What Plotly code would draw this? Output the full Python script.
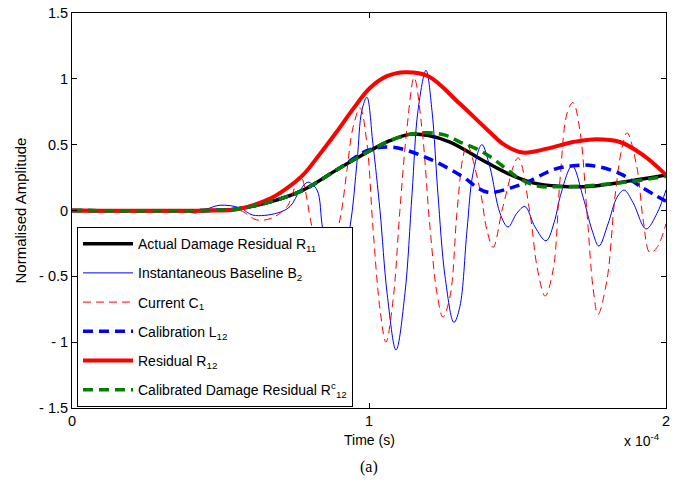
import plotly.graph_objects as go

# time in units of 1e-4 s
t_r11 = [0, 0.45, 0.55, 0.667, 0.778, 0.892, 1.0, 1.07, 1.14, 1.2, 1.273, 1.384, 1.468, 1.552, 1.643, 1.75, 1.88, 2.0]
v_r11 = [0, 0, 0.01, 0.065, 0.155, 0.31, 0.45, 0.53, 0.58, 0.57, 0.52, 0.38, 0.28, 0.21, 0.185, 0.185, 0.225, 0.27]

t_b2 = [0, 0.40, 0.45, 0.498, 0.566, 0.609, 0.69, 0.734, 0.768, 0.795, 0.825, 0.845, 0.893, 0.936, 0.960, 0.976,
        0.993, 1.013, 1.037, 1.061, 1.091, 1.121, 1.145, 1.165, 1.192, 1.212, 1.232, 1.256, 1.286, 1.306, 1.330,
        1.350, 1.380, 1.407, 1.441, 1.468, 1.498, 1.525, 1.559, 1.596, 1.626, 1.643, 1.684, 1.721, 1.751, 1.774,
        1.805, 1.835, 1.859, 1.889, 1.933, 1.970, 2.0]
v_b2 = [0, 0, 0.01, 0.04, 0.02, -0.035, -0.02, 0.03, 0.155, 0.215, 0.155, -0.15, -0.55, -0.125, 0.38, 0.76,
        0.86, 0.51, 0.0, -0.63, -1.06, -0.63, 0.13, 0.76, 1.065, 0.76, 0.13, -0.5, -0.85, -0.73, -0.15,
        0.28, 0.50, 0.33, -0.02, -0.125, -0.02, 0.03, -0.125, -0.23, -0.07, 0.1, 0.34, 0.1, -0.15, -0.27,
        -0.1, 0.1, 0.155, 0.06, -0.14, -0.02, 0.155]

t_c1 = [0, 0.364, 0.414, 0.481, 0.566, 0.62, 0.67, 0.724, 0.768, 0.811, 0.855, 0.902, 0.926, 0.946, 0.970, 0.993,
        1.013, 1.037, 1.057, 1.081, 1.104, 1.128, 1.152, 1.178, 1.205, 1.229, 1.249, 1.273, 1.296, 1.316, 1.330,
        1.374, 1.397, 1.418, 1.451, 1.502, 1.542, 1.566, 1.593, 1.620, 1.643, 1.667, 1.687, 1.710, 1.734, 1.754,
        1.771, 1.801, 1.828, 1.852, 1.869, 1.902, 1.923, 1.946, 1.970, 2.0]
v_c1 = [0, 0, -0.02, 0, 0, -0.07, -0.06, 0.03, 0.26, -0.15, -0.45, -0.07, 0.31, 0.63, 0.78, 0.51,
        -0.12, -0.75, -1.0, -0.68, 0.0, 0.63, 1.01, 0.63, -0.12, -0.63, -0.81, -0.65, -0.02, 0.4, 0.5,
        0.155, -0.15, -0.28, 0.03, 0.4, -0.02, -0.43, -0.65, -0.45, 0.23, 0.74, 0.82, 0.61, -0.02, -0.58,
        -0.79, -0.53, 0.1, 0.48, 0.59, 0.33, -0.07, -0.32, -0.28, -0.1]

t_l12 = [0, 0.45, 0.55, 0.667, 0.778, 0.892, 1.0, 1.08, 1.195, 1.306, 1.397, 1.475, 1.532, 1.62, 1.687, 1.754, 1.845, 1.923, 2.0]
v_l12 = [0, 0, 0.01, 0.065, 0.155, 0.31, 0.46, 0.48, 0.40, 0.27, 0.14, 0.17, 0.215, 0.31, 0.34, 0.34, 0.28, 0.17, 0.07]

t_r12 = [0, 0.45, 0.556, 0.667, 0.724, 0.778, 0.835, 0.892, 0.946, 1.003, 1.06, 1.121, 1.2, 1.306, 1.4, 1.455, 1.518, 1.6, 1.687, 1.754, 1.845, 1.923, 2.0]
v_r12 = [0, 0, 0.01, 0.09, 0.17, 0.27, 0.43, 0.6, 0.77, 0.93, 1.02, 1.05, 1.02, 0.81, 0.61, 0.5, 0.44, 0.47, 0.52, 0.54, 0.52, 0.42, 0.27]

t_r12c = [0, 0.45, 0.55, 0.667, 0.778, 0.892, 1.0, 1.07, 1.14, 1.2, 1.26, 1.306, 1.36, 1.414, 1.465, 1.508, 1.569, 1.633, 1.75, 1.88, 2.0]
v_r12c = [0, 0, 0.01, 0.065, 0.155, 0.31, 0.45, 0.53, 0.58, 0.59, 0.57, 0.52, 0.47, 0.40, 0.31, 0.24, 0.185, 0.18, 0.19, 0.22, 0.26]

y_ticks = [1.5, 1, 0.5, 0, -0.5, -1, -1.5]
y_tick_text = ["1.5", "1", "0.5", "0", "- 0.5", "- 1", "- 1.5"]
x_ticks = [0, 1, 2]
x_tick_text = ["0", "1", "2"]

series = [
    ("Actual Damage Residual R<sub>11</sub>", t_r11, v_r11, "black", 3.5, "solid"),
    ("Instantaneous Baseline B<sub>2</sub>", t_b2, v_b2, "blue", 1, "solid"),
    ("Current C<sub>1</sub>", t_c1, v_c1, "red", 1, "8px,5px"),
    ("Calibration L<sub>12</sub>", t_l12, v_l12, "blue", 3.5, "10px,6px"),
    ("Residual R<sub>12</sub>", t_r12, v_r12, "red", 4, "solid"),
    ("Calibrated Damage Residual R<sup>c</sup><sub>12</sub>", t_r12c, v_r12c, "green", 3.5, "10px,6px"),
]

fig = go.Figure()
for i, (name, t, v, col, w, dash) in enumerate(series):
    fig.add_trace(go.Scatter(
        x=t, y=v, mode="lines", name=name, legendgroup=str(i),
        line=dict(color=col, width=w, dash=dash, shape="spline", smoothing=1.0),
    ))

font = "Liberation Sans, Arial, sans-serif"
fig.update_layout(
    width=677, height=487,
    margin=dict(l=72, r=11, t=13, b=79, autoexpand=False),
    paper_bgcolor="white", plot_bgcolor="white",
    font=dict(family=font, size=14, color="black"),
    showlegend=True,
    legend=dict(
        x=0.0084, y=0.458, xanchor="left", yanchor="top",
        bgcolor="white", bordercolor="black", borderwidth=1,
        font=dict(family=font, size=14, color="black"),
        tracegroupgap=8, itemwidth=50,
    ),
    xaxis=dict(
        range=[0, 2], tickvals=x_ticks, ticktext=x_tick_text, automargin=False,
        showgrid=False, zeroline=False, showline=True, linecolor="black", linewidth=1,
        mirror="ticks", ticks="inside", ticklen=5, tickcolor="black",
        tickfont=dict(size=14.5),
    ),
    yaxis=dict(
        range=[-1.5, 1.5], tickvals=y_ticks, ticktext=y_tick_text, automargin=False,
        showgrid=False, zeroline=False, showline=True, linecolor="black", linewidth=1,
        mirror="ticks", ticks="inside", ticklen=5, tickcolor="black",
        tickfont=dict(size=14.5),
    ),
    annotations=[
        dict(text="Normalised Amplitude", x=-0.0859, y=0.5, xref="paper", yref="paper", textangle=-90,
             xanchor="center", yanchor="middle", showarrow=False, font=dict(family=font, size=15)),
        dict(text="Time (s)", x=0.5, y=-0.081, xref="paper", yref="paper", xanchor="center", yanchor="middle",
             showarrow=False, font=dict(family=font, size=14)),
        dict(text="x 10<sup>-4</sup>", x=0.993, y=-0.081, xref="paper", yref="paper", xanchor="right", yanchor="middle",
             showarrow=False, font=dict(family=font, size=14)),
        dict(text="(a)", x=0.5, y=-0.149, xref="paper", yref="paper", xanchor="center", yanchor="middle",
             showarrow=False, font=dict(family="Liberation Serif, Times New Roman, serif", size=16)),
    ],
)

fig.write_html("out.html", config={"displayModeBar": False},
               post_script="document.body.style.margin='0';")
